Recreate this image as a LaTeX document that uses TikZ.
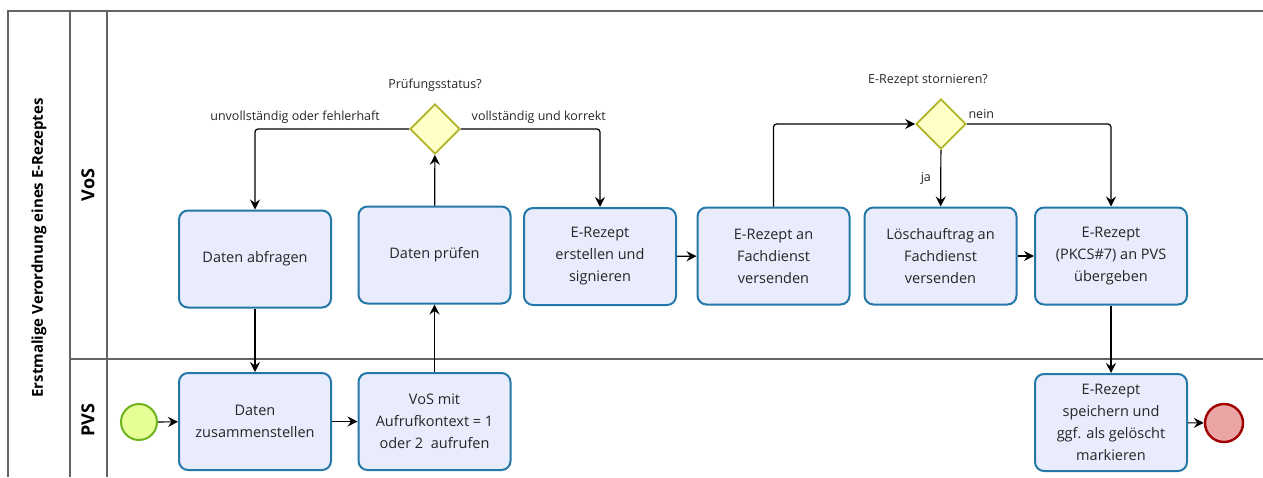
\documentclass[tikz,border=0pt]{standalone}
\usepackage{fontspec}
\setmainfont{Open Sans}
\usetikzlibrary{arrows.meta,shapes.geometric}
\definecolor{taskfill}{RGB}{232,236,252}
\definecolor{taskline}{RGB}{36,120,168}
\definecolor{gatefill}{RGB}{255,255,200}
\definecolor{gateline}{RGB}{178,178,40}
\definecolor{startfill}{RGB}{230,255,150}
\definecolor{startline}{RGB}{110,180,30}
\definecolor{endfill}{RGB}{235,165,165}
\definecolor{endline}{RGB}{160,0,0}
\definecolor{poolline}{RGB}{100,100,100}
\begin{document}
\begin{tikzpicture}[x=1pt,y=-1pt,
    >={Stealth[length=10pt,width=10pt,inset=3.5pt]},
    task/.style={rectangle, rounded corners=9pt, draw=taskline, fill=taskfill,
        line width=2pt, minimum width=152pt, minimum height=97pt,
        align=center, text=black!85, font=\fontsize{14.5}{22}\selectfont},
    gate/.style={diamond, draw=gateline, fill=gatefill, line width=1.8pt,
        minimum width=50pt, minimum height=50pt, inner sep=0pt},
    flow/.style={->, line width=1.2pt, rounded corners=3pt},
    lbl/.style={font=\fontsize{12.5}{14}\selectfont, text=black!85},
    pool/.style={draw=poolline, line width=1.2pt}]
    \useasboundingbox (0,0) rectangle (1263,477);
    % pool and lanes
    \draw[pool] (8,477) -- (8,11) -- (1263,11);
    \draw[pool] (70,11) -- (70,477);
    \draw[pool] (107,11) -- (107,477);
    \draw[pool] (70,359) -- (1263,359);
    \node [rotate=90, font=\bfseries\fontsize{15}{17}\selectfont] (pooltitle) at (39,248) {Erstmalige Verordnung eines E-Rezeptes};
    \node [rotate=90, font=\bfseries\fontsize{18}{20}\selectfont] (vos) at (88,185) {VoS};
    \node [rotate=90, font=\bfseries\fontsize{18}{20}\selectfont] (pvs) at (88,420) {PVS};
    % tasks
    \node [task] (abfragen) at (255,259) {Daten abfragen};
    \node [task] (pruefen) at (434.5,255) {Daten prüfen};
    \node [task] (erstellen) at (600,256.5) {E-Rezept\\erstellen und\\signieren};
    \node [task] (versenden) at (773.5,256) {E-Rezept an\\Fachdienst\\versenden};
    \node [task] (loeschen) at (940.5,256) {Löschauftrag an\\Fachdienst\\versenden};
    \node [task] (uebergeben) at (1111,256) {E-Rezept\\(PKCS\#7) an PVS\\übergeben};
    \node [task] (zusammen) at (255,421.5) {Daten\\zusammenstellen};
    \node [task] (aufrufen) at (434.5,421.5) {VoS mit\\Aufrufkontext = 1\\oder 2\ \ aufrufen};
    \node [task] (speichern) at (1111,422.5) {E-Rezept\\speichern und\\ggf. als gelöscht\\markieren};
    % gateways and events
    \node [gate, label={[lbl, label distance=8pt]above:Prüfungsstatus?}] (status) at (435,129) {};
    \node [gate, label={[lbl, label distance=8pt, xshift=-13pt]above:E-Rezept stornieren?}] (storno) at (941,124) {};
    \node [circle, draw=startline, fill=startfill, line width=2pt, minimum size=36pt] (start) at (139,422) {};
    \node [circle, draw=endline, fill=endfill, line width=2.4pt, minimum size=38pt] (ende) at (1224,423) {};
    % flows
    \draw[flow] (start) -- (zusammen);
    \draw[flow] (abfragen) -- (zusammen);
    \draw[flow] (zusammen) -- (aufrufen);
    \draw[flow] (aufrufen) -- (pruefen);
    \draw[flow] (pruefen) -- (status);
    \draw[flow] (status.west) -| node [lbl, pos=0.37, above=2pt] {unvollständig oder fehlerhaft} (abfragen.north);
    \draw[flow] (status.east) -| node [lbl, pos=0.28, above=2pt] {vollständig und korrekt} (erstellen.north);
    \draw[flow] (erstellen) -- (versenden);
    \draw[flow] (versenden.north) |- (storno.west);
    \draw[flow] (storno) -- node [lbl, left=6pt] {ja} (loeschen);
    \draw[flow] (storno.east) -| node [lbl, pos=0.05, above=1pt] {nein} (uebergeben.north);
    \draw[flow] (loeschen) -- (uebergeben);
    \draw[flow] (uebergeben) -- (speichern);
    \draw[flow] (speichern) -- (ende);
\end{tikzpicture}
\end{document}
